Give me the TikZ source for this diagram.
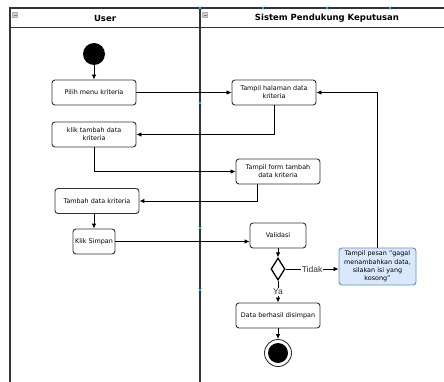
\documentclass[tikz,border=0pt]{standalone}
\usepackage{fontspec}
\setmainfont{DejaVu Sans}
\newfontfamily\lblfont{Liberation Sans}
\usepackage{tikz}
\usetikzlibrary{positioning, arrows.meta, shapes.geometric}
\definecolor{lane}{HTML}{333333}
\definecolor{pesanfill}{HTML}{DAE8FC}
\definecolor{pesanline}{HTML}{6C8EBF}
\definecolor{handle}{HTML}{3DB4F0}
\tikzset{% 
	>={Latex[length=5pt, width=4.5pt]},
	every edge/.append style={line width = 0.8pt},
	act/.style = {name = #1, rectangle, rounded corners = 3pt, draw = lane, line width = 0.9pt, minimum width = 84pt, minimum height = 25pt, text width = 82pt, align = center, inner sep = 1pt, font = \fontsize{6.4}{8.2}\selectfont},
	msg/.style = {act = #1, fill = pesanfill, draw = pesanline, minimum width = 77pt, minimum height = 37pt, text width = 75pt},
	dec/.style = {name = #1, diamond, draw, line width = 1.3pt, minimum width = 14pt, minimum height = 22pt, inner sep = 0pt},
	ini/.style = {name = #1, circle, fill, minimum size = 22pt, inner sep = 0pt},
	fin/.style = {name = #1, circle, draw = lane, line width = 0.9pt, minimum size = 27pt, inner sep = 0pt, path picture = {\fill (path picture bounding box.center) circle (10pt);}},
	lbl/.style = {fill = white, inner sep = 1pt, text = lane, font = \lblfont\fontsize{8.5}{9}\selectfont},
	hdr/.style = {font = \bfseries\fontsize{8.5}{10}\selectfont},
	icon/.style = {rectangle, fill = gray!35, draw = gray!60, line width = 0.4pt, minimum size = 5pt, inner sep = 0pt, path picture = {\draw [gray, line width = 0.8pt] ([xshift = 1pt]path picture bounding box.west) -- ([xshift = -1pt]path picture bounding box.east);}}
}
\begin{document}
\begin{tikzpicture}[x = 1pt, y = -1pt]
		\useasboundingbox (0,0) rectangle (444,382);
		% lanes
		\draw [lane, line width = 1.2pt] (10,382) -- (10,8) -- (444,8);
		\draw [lane, line width = 1pt] (10,28) -- (444,28);
		\draw [lane, line width = 1.2pt] (200,8) -- (200,382);
		\node [hdr] (user) at (105,18) {User};
		\node [hdr] (spk) at (327,18) {Sistem Pendukung Keputusan};
		\node [icon] (iuser) at (15,15) {};
		\node [icon] (ispk) at (205,15) {};
		\foreach \p in {(200,8), (263,8), (327,8), (390,8), (200,103), (200,228), (200,290)}
			\draw [handle, line width = 0.5pt] \p +(-1.5,-1.5) -- +(1.5,1.5) \p +(-1.5,1.5) -- +(1.5,-1.5);
		% user
		\node [ini = {start}] at (94,54) {};
		\node [act = {pilih}] at (94,92.5) {Pilih menu kriteria};
		\node [act = {klik}] at (94,134.5) {klik tambah data\\kriteria};
		\node [act = {tambah}] at (97,201) {Tambah data kriteria};
		\node [act = {simpan}, minimum width = 42pt, text width = 42pt, inner sep = 0pt] at (94,241.5) {Klik Simpan};
		% sistem
		\node [act = {thal}] at (274,92.5) {Tampil halaman data\\kriteria};
		\node [act = {tform}] at (278,171.5) {Tampil form tambah\\data kriteria};
		\node [act = {valid}, minimum width = 56pt, text width = 54pt] at (278,235.5) {Validasi};
		\node [dec = {cek}] at (278,269) {};
		\node [msg = {pesan}] at (377.5,266.5) {Tampil pesan "gagal\\menambahkan data,\\silakan isi yang\\kosong"};
		\node [act = {data}] at (278,315.5) {Data berhasil disimpan};
		\node [fin = {end}] at (278,353) {};
		% alur
		\path [->] (start) edge (pilih);
		\path [->] (pilih) edge (thal);
		\draw [->, line width = 0.8pt] (thal) |- (klik);
		\draw [->, line width = 0.8pt] (klik) |- (tform);
		\draw [->, line width = 0.8pt] ([xshift = -21pt]tform.south) |- (tambah);
		\path [->] (tambah.south -| simpan) edge (simpan);
		\path [->] (simpan) edge (simpan -| valid.west);
		\path [->] (valid) edge (cek);
		\path [->] (cek) edge node [lbl] {Tidak} (cek -| pesan.west);
		\path [->] (cek) edge node [lbl] {Ya} (data);
		\draw [->, line width = 0.8pt] (pesan) |- (thal);
		\path [->] (data) edge (end);
		\end{tikzpicture}
\end{document}
